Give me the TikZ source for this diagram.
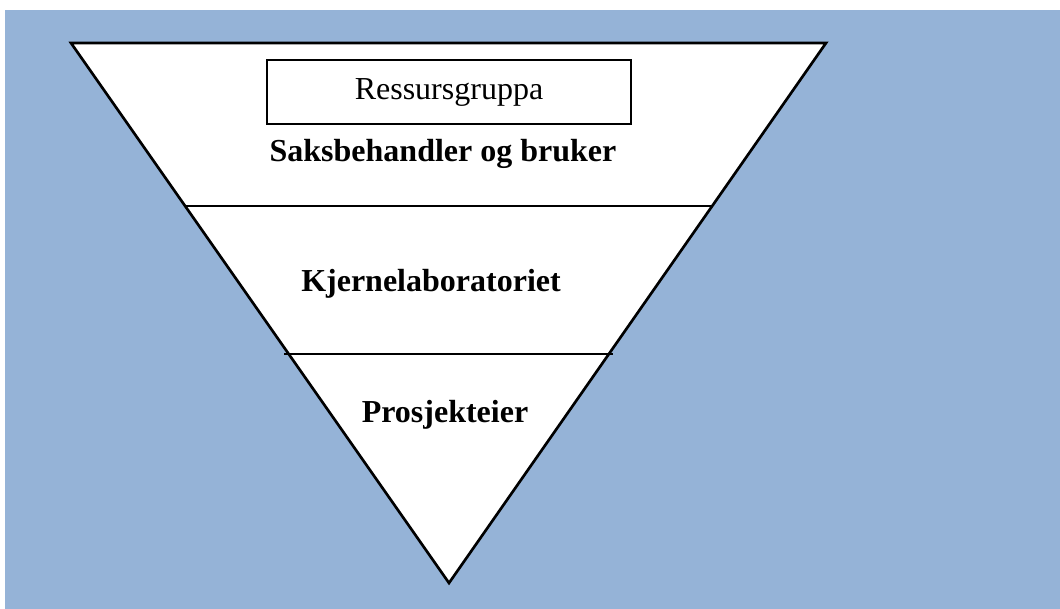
\documentclass[tikz,border=0pt]{standalone}
\usepackage{fontspec}
\setmainfont{Liberation Serif}
\definecolor{bgblue}{HTML}{95B3D7}
\tikzset{
  lbl/.style={font=\fontsize{24}{28}\selectfont\bfseries, anchor=base, inner sep=0pt},
  edge/.style={draw=black, line width=2pt, line join=miter},
  boxlbl/.style={font=\fontsize{24}{28}\selectfont, draw=black, line width=0.9pt, fill=white, minimum width=273pt, minimum height=48pt, inner sep=0pt}
}
\begin{document}
\begin{tikzpicture}[x=0.75pt, y=-0.75pt]
\useasboundingbox (0,0) rectangle (1060,609);
\fill[white] (0,0) rectangle (1060,609);
\fill[bgblue] (5,10) rectangle (1060,609);
\coordinate (tl) at (71,43);
\coordinate (tr) at (826,43);
\coordinate (ap) at (449,583);
\coordinate (l1a) at (186,206);
\coordinate (l1b) at (712,206);
\coordinate (l2a) at (284,354);
\coordinate (l2b) at (613,354);
\fill[white] (tl) -- (tr) -- (ap) -- cycle;
\draw[edge] (tl) -- (tr) -- (ap) -- cycle;
\draw[edge] (l1a) -- (l1b);
\draw[edge] (l2a) -- (l2b);
\node[boxlbl] (res) at (449,92) {Ressursgruppa};
\node[lbl] (sak) at (443,162) {Saksbehandler og bruker};
\node[lbl] (kje) at (431,292) {Kjernelaboratoriet};
\node[lbl] (pro) at (445,422) {Prosjekteier};
\end{tikzpicture}
\end{document}
